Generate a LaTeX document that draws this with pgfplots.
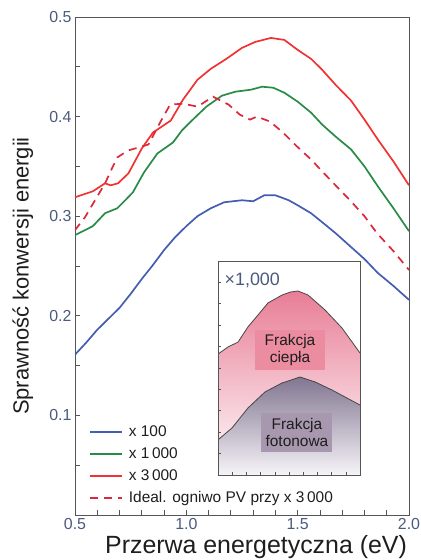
\documentclass[border=0pt]{standalone}
\usepackage{fontspec}
\setmainfont{Liberation Sans}
\usepackage{pgfplots}
\pgfplotsset{compat=1.18}
\definecolor{cblue}{RGB}{68,92,178}
\definecolor{cgreen}{RGB}{40,140,70}
\definecolor{cred}{RGB}{240,50,50}
\definecolor{cdash}{RGB}{220,40,60}
\definecolor{axgray}{RGB}{85,85,85}
\definecolor{tickcol}{RGB}{75,90,125}
\definecolor{labcol}{RGB}{30,30,30}
\definecolor{pinktop}{RGB}{232,125,150}
\definecolor{pinkmid}{RGB}{246,205,215}
\definecolor{purptop}{RGB}{130,118,145}
\definecolor{purpmid}{RGB}{195,186,202}
\definecolor{purpbot}{RGB}{246,244,248}
\definecolor{pinkbox}{RGB}{236,140,160}
\definecolor{purpbox}{RGB}{168,152,175}
\definecolor{curvegray}{RGB}{70,70,70}
\begin{document}
\begin{tikzpicture}
\begin{axis}[
  at={(0,0)}, anchor=south west,
  scale only axis, width=334bp, height=498bp,
  xmin=0.5, xmax=2.0, ymin=0, ymax=0.5,
  xtick={0.5,1.0,1.5,2.0}, ytick={0.1,0.2,0.3,0.4,0.5},
  minor xtick={0.6,0.7,0.8,0.9,1.1,1.2,1.3,1.4,1.6,1.7,1.8,1.9},
  minor ytick={0.05,0.15,0.25,0.35,0.45},
  tick pos=left, tick align=inside,
  major tick length=5bp, minor tick length=5bp,
  axis line style={draw=axgray, line width=0.8bp},
  every tick/.style={draw=axgray, line width=0.8bp},
  xticklabel style={/pgf/number format/.cd, fixed, fixed zerofill, precision=1, assume math mode=true},
  yticklabel style={/pgf/number format/.cd, fixed, fixed zerofill, precision=1, assume math mode=true},
  tick label style={font=\fontsize{16}{18}\selectfont, text=tickcol},
  xlabel={Przerwa energetyczna (eV)},
  ylabel={Sprawność konwersji energii},
  xlabel style={at={(axis description cs:0.542,-0.064)}, anchor=center, font=\fontsize{25}{28}\selectfont, text=labcol},
  ylabel style={at={(axis description cs:-0.156,0.48)}, anchor=center, font=\fontsize{22}{26}\selectfont, text=labcol},
  legend style={draw=none, fill=none, at={(0.033,0.189)}, anchor=north west,
    font=\fontsize{15.5}{17}\selectfont, text=labcol, row sep=4bp,
    column sep=4bp,
    nodes={inner sep=2bp, text height=11bp, text depth=3bp}},
  legend cell align=left,
  legend image code/.code={\draw[#1] (0bp,0bp) -- (32bp,0bp);},
]
\addplot[color=cblue, line width=1.7bp] coordinates {
(0.50,0.161)(0.55,0.173)(0.60,0.186)(0.65,0.197)(0.70,0.208)(0.75,0.222)
(0.80,0.237)(0.85,0.251)(0.90,0.266)(0.95,0.279)(1.00,0.290)(1.05,0.300)
(1.11,0.308)(1.17,0.314)(1.25,0.316)(1.30,0.315)(1.35,0.321)(1.40,0.321)
(1.46,0.316)(1.50,0.311)(1.56,0.303)(1.61,0.294)(1.67,0.283)(1.74,0.269)
(1.80,0.257)(1.86,0.243)(1.93,0.230)(2.00,0.216)};
\addlegendentry{x 100}
\addplot[color=cgreen, line width=1.7bp] coordinates {
(0.50,0.281)(0.58,0.290)(0.635,0.303)(0.69,0.308)(0.73,0.317)(0.76,0.324)
(0.81,0.344)(0.87,0.363)(0.94,0.374)(0.98,0.386)(1.02,0.395)(1.09,0.410)
(1.16,0.421)(1.22,0.425)(1.29,0.427)(1.34,0.430)(1.39,0.429)(1.44,0.424)
(1.50,0.415)(1.56,0.404)(1.61,0.392)(1.67,0.380)(1.74,0.367)(1.80,0.350)
(1.86,0.330)(1.93,0.308)(2.00,0.285)};
\addlegendentry{x 1\,000}
\addplot[color=cred, line width=1.7bp] coordinates {
(0.50,0.319)(0.58,0.325)(0.635,0.333)(0.66,0.331)(0.693,0.333)(0.74,0.343)
(0.80,0.368)(0.85,0.384)(0.89,0.390)(0.93,0.396)(0.985,0.417)(1.05,0.437)
(1.11,0.448)(1.18,0.458)(1.25,0.469)(1.31,0.475)(1.38,0.479)(1.44,0.477)
(1.50,0.467)(1.56,0.458)(1.61,0.447)(1.67,0.432)(1.74,0.416)(1.80,0.397)
(1.86,0.377)(1.93,0.355)(2.00,0.331)};
\addlegendentry{x 3\,000}
\addplot[color=cdash, line width=1.7bp, dash pattern=on 8bp off 6bp] coordinates {
(0.50,0.286)(0.545,0.299)(0.59,0.316)(0.635,0.333)(0.666,0.348)(0.69,0.359)
(0.738,0.366)(0.77,0.368)(0.83,0.372)(0.882,0.394)(0.927,0.412)(0.985,0.413)
(1.05,0.410)(1.12,0.420)(1.19,0.412)(1.24,0.402)(1.286,0.397)(1.317,0.400)
(1.376,0.395)(1.434,0.384)(1.497,0.370)(1.56,0.357)(1.61,0.345)(1.67,0.331)
(1.735,0.316)(1.80,0.300)(1.856,0.283)(1.93,0.265)(2.00,0.246)};
\addlegendentry{Ideal. ogniwo PV przy x 3\,000}
\end{axis}
\begin{axis}[
  at={(143bp,40bp)}, anchor=south west,
  scale only axis, width=142bp, height=214bp,
  xmin=0, xmax=10, ymin=0, ymax=10,
  xtick={1,...,9}, ytick={1,...,9},
  xticklabels={}, yticklabels={},
  tick pos=left, tick align=inside, major tick length=3bp,
  axis line style={draw=axgray, line width=0.8bp},
  every tick/.style={draw=axgray, line width=0.6bp},
  axis background/.style={fill=white},
  axis on top,
]
\addplot[draw=none, top color=pinktop, middle color=pinkmid, bottom color=white] coordinates {
(0,5.65)(0.7,5.98)(1.41,6.21)(2.11,6.92)(2.82,7.48)(3.52,8.04)(4.51,8.41)
(5.1,8.55)(5.63,8.60)(6.34,8.41)(7.54,7.71)(8.73,6.87)(10,5.70)} \closedcycle;
\addplot[draw=none, top color=purptop, middle color=purpmid, bottom color=purpbot] coordinates {
(0,1.64)(0.99,2.20)(2.11,3.13)(3.31,3.88)(4.51,4.30)(5.2,4.45)(5.77,4.58)
(6.83,4.35)(8.03,3.97)(10,3.27)} \closedcycle;
\addplot[curvegray, line width=0.8bp] coordinates {
(0,5.65)(0.7,5.98)(1.41,6.21)(2.11,6.92)(2.82,7.48)(3.52,8.04)(4.51,8.41)
(5.1,8.55)(5.63,8.60)(6.34,8.41)(7.54,7.71)(8.73,6.87)(10,5.70)};
\addplot[curvegray, line width=0.8bp] coordinates {
(0,1.64)(0.99,2.20)(2.11,3.13)(3.31,3.88)(4.51,4.30)(5.2,4.45)(5.77,4.58)
(6.83,4.35)(8.03,3.97)(10,3.27)};
\node[fill=pinkbox, minimum width=70bp, minimum height=40bp, align=center,
  font=\fontsize{15.5}{17}\selectfont, text=labcol, inner sep=1bp] at (axis cs:5.07,5.84) {Frakcja\\ciepła};
\node[fill=purpbox, minimum width=71bp, minimum height=39bp, align=center,
  font=\fontsize{15.5}{17}\selectfont, text=labcol, inner sep=1bp] at (axis cs:5.56,2.0) {Frakcja\\fotonowa};
\node[anchor=west, font=\fontsize{18}{20}\selectfont, text=tickcol, inner sep=0pt] at (axis cs:0.45,9.1) {×1,000};
\end{axis}
\pgfresetboundingbox
\path[use as bounding box] (-75bp,-45bp) rectangle (346bp,515bp);
\end{tikzpicture}
\end{document}
